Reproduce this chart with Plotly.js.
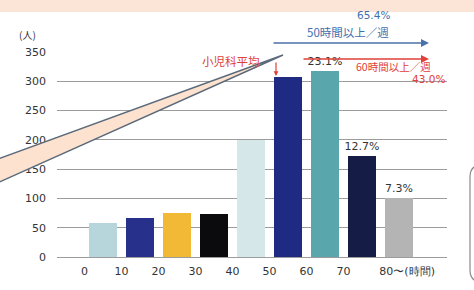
<!DOCTYPE html>
<html><head><meta charset="utf-8">
<script src="https://cdn.plot.ly/plotly-3.0.1.min.js"></script>
<style>html,body{margin:0;padding:0;background:#fff;}#chart{width:474px;height:290px;}</style>
</head><body><div id="chart"></div>
<script>
// Data
const binStarts = [0, 10, 20, 30, 40, 50, 60, 70, 80];
const counts = [58, 66, 75, 73, 200, 307, 318, 172, 100];
const barLabels = ["", "", "", "", "", "", "23.1%", "12.7%", "7.3%"];
const tickLabels = ["0", "10", "20", "30", "40", "50", "60", "70", "80〜(時間)"];
const barColors = ["#b7d6dc", "#27308a", "#f1b935", "#0b0b0d", "#d6e7ea", "#1f2a82", "#5aa6ad", "#151c45", "#b4b4b4"];

// layout geometry (pixels)
const W = 474, H = 290, L = 57, R = 27, T = 52, B = 33;
const PW = W - L - R, PH = H - T - B;
const px = x => (x - L) / PW;
const py = y => (H - B - y) / PH;

const centers = binStarts.map(b => b + 5);
const tickVals = binStarts.map((b, i) => i === binStarts.length - 1 ? b + 7.2 : b);

const jp = '"Noto Sans CJK JP", sans-serif';
const num = '"DejaVu Sans", Arial, sans-serif';

const trace = {
  type: 'bar', x: centers, y: counts, width: 7.6,
  marker: {color: barColors, line: {width: 0}},
  text: barLabels, textposition: 'outside', cliponaxis: false, constraintext: 'none',
  textfont: {family: num, size: 11, color: '#333'},
  hoverinfo: 'skip'
};

const wedge = 'M ' + px(-5) + ' ' + py(160) + ' L ' + px(283) + ' ' + py(55) + ' L ' + px(-5) + ' ' + py(184) + ' Z';
const box = 'M ' + px(482) + ' ' + py(165) + ' Q ' + px(470) + ' ' + py(165) + ' ' + px(470) + ' ' + py(177) +
            ' L ' + px(470) + ' ' + py(270) + ' Q ' + px(470) + ' ' + py(282) + ' ' + px(482) + ' ' + py(282);

function label(x, y, text, font) {
  return {xref: 'paper', yref: 'paper', x: px(x), y: py(y), xanchor: 'center', yanchor: 'middle',
    text: text, showarrow: false, font: font};
}

const layout = {
  width: W, height: H, margin: {l: L, r: R, t: T, b: B},
  paper_bgcolor: '#fff', plot_bgcolor: '#fff', showlegend: false,
  bargap: 0,
  xaxis: {range: [-7.43, 97.97], showgrid: false, zeroline: false, showline: false,
    tickmode: 'array', tickvals: tickVals, ticktext: tickLabels, ticks: '',
    ticklabelstandoff: 6, tickfont: {family: num, size: 11, color: '#333'}, fixedrange: true},
  yaxis: {range: [0, 350], dtick: 50, showgrid: true, gridcolor: '#9c9c9c', gridwidth: 1,
    zeroline: true, zerolinecolor: '#9c9c9c', zerolinewidth: 1, showline: false, ticks: '',
    ticklabelstandoff: 10, tickfont: {family: num, size: 11, color: '#333'}, fixedrange: true},
  shapes: [
    {type: 'rect', xref: 'paper', yref: 'paper', x0: px(-5), x1: px(480), y0: py(12), y1: py(-5),
      fillcolor: '#fce5d6', line: {width: 0}, layer: 'below'},
    {type: 'path', xref: 'paper', yref: 'paper', path: wedge, fillcolor: '#fde3cf',
      line: {color: '#5b6a7a', width: 1.5}, layer: 'above'},
    {type: 'path', xref: 'paper', yref: 'paper', path: box,
      line: {color: '#8a8a8a', width: 1.2}, layer: 'above'}
  ],
  annotations: [
    label(27, 35, '(人)', {family: jp, size: 10, color: '#333'}),
    // blue arrow 50h+
    {xref: 'paper', yref: 'paper', x: px(429), y: py(43), ax: -157, ay: 0, text: '', showarrow: true,
      arrowhead: 2, arrowsize: 1, arrowwidth: 1.6, arrowcolor: '#4a72a8'},
    label(373, 15, '65.4%', {family: num, size: 10.5, color: '#3f6fae'}),
    label(348, 32, '50時間以上／週', {family: jp, size: 11.5, color: '#3f6fae'}),
    // red arrow 60h+
    {xref: 'paper', yref: 'paper', x: px(429), y: py(59), ax: -127, ay: 0, text: '', showarrow: true,
      arrowhead: 2, arrowsize: 1, arrowwidth: 1.6, arrowcolor: '#e0403a'},
    label(393, 67, '60時間以上／週', {family: jp, size: 10.5, color: '#e0403a'}),
    label(428, 79, '43.0%', {family: num, size: 10.5, color: '#e0403a'}),
    // pediatric average pointer
    label(231, 61, '小児科平均', {family: jp, size: 11.5, color: '#e0403a'}),
    {xref: 'paper', yref: 'paper', x: px(276), y: py(76), ax: 0, ay: -15, text: '', showarrow: true,
      arrowhead: 2, arrowsize: 0.8, arrowwidth: 1.2, arrowcolor: '#e0403a'}
  ]
};

Plotly.newPlot('chart', [trace], layout, {displayModeBar: false, staticPlot: true});
</script></body></html>
